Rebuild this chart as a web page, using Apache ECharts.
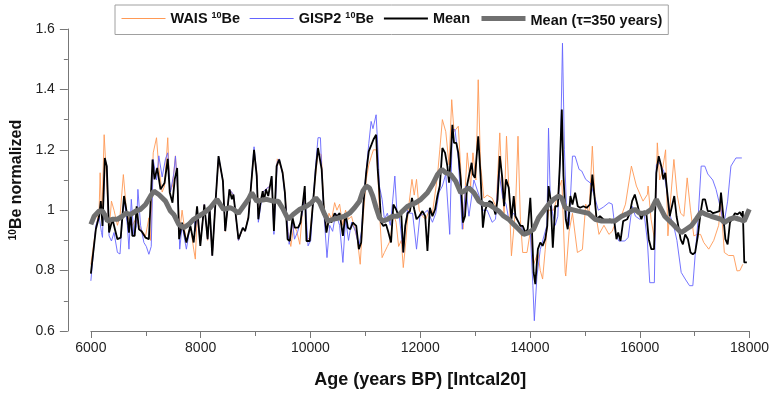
<!DOCTYPE html>
<html>
<head>
<meta charset="utf-8">
<script src="https://cdn.jsdelivr.net/npm/echarts@6/dist/echarts.min.js"></script>
<style>html,body{margin:0;padding:0;background:#fff}#c{width:772px;height:394px}</style>
</head>
<body>
<div id="c"></div>
<script>
const seriesNames = ['WAIS ¹⁰Be', 'GISP2 ¹⁰Be', 'Mean', 'Mean (τ=350 years)'];
const xTicks = [6000, 8000, 10000, 12000, 14000, 16000, 18000];
const yTicks = [0.6, 0.8, 1, 1.2, 1.4, 1.6];

const waisData = [[6000,0.82],[6091,0.94],[6150,1.0],[6169,1.124],[6199,0.97],[6242,1.25],[6290,1.09],[6332,0.93],[6375,1.03],[6422,1.0],[6484,0.95],[6531,0.98],[6592,1.118],[6653,0.99],[6713,0.96],[6756,0.95],[6816,0.97],[6876,0.95],[6937,0.93],[6997,0.915],[7057,0.975],[7088,0.9],[7136,1.19],[7196,1.24],[7238,1.14],[7299,1.06],[7342,1.08],[7401,1.24],[7438,1.06],[7487,1.08],[7541,1.18],[7583,1.06],[7619,0.93],[7662,1.0],[7740,0.894],[7813,0.95],[7873,0.871],[7903,0.838],[7935,0.98],[7994,0.89],[8067,1.02],[8127,0.9],[8163,1.0],[8212,0.85],[8266,1.01],[8326,1.17],[8406,1.1],[8448,0.93],[8525,1.07],[8598,1.05],[8689,0.9],[8768,0.94],[8810,0.93],[8870,0.98],[8973,1.19],[9022,1.13],[9051,0.98],[9131,1.06],[9190,1.07],[9263,1.08],[9294,1.1],[9335,0.94],[9396,1.17],[9431,1.17],[9493,1.13],[9535,1.06],[9590,0.93],[9643,0.88],[9698,0.95],[9752,0.93],[9807,0.887],[9856,1.0],[9897,1.06],[9933,0.9],[9988,0.91],[10048,1.03],[10097,1.12],[10138,1.19],[10199,1.184],[10242,1.02],[10296,0.93],[10338,0.99],[10387,0.97],[10441,1.025],[10483,1.0],[10532,1.02],[10586,0.95],[10640,1.0],[10694,0.97],[10749,0.98],[10804,0.94],[10858,0.9],[10907,0.821],[10949,0.95],[11016,1.1],[11063,1.15],[11112,1.18],[11148,1.2],[11197,1.2],[11226,1.13],[11257,1.0],[11306,0.843],[11348,0.86],[11402,0.88],[11456,0.9],[11511,0.99],[11560,0.96],[11607,0.88],[11656,0.9],[11692,0.81],[11740,0.9],[11782,1.0],[11850,1.102],[11891,1.05],[11933,1.102],[11982,1.0],[12042,0.98],[12102,0.97],[12163,1.0],[12223,0.99],[12314,1.113],[12357,1.2],[12404,1.3],[12466,1.26],[12526,1.15],[12574,1.366],[12616,1.26],[12694,1.278],[12738,1.14],[12779,0.937],[12857,1.19],[12919,1.08],[12961,1.19],[13015,1.1],[13057,1.432],[13100,1.15],[13160,1.04],[13220,1.05],[13311,1.04],[13384,1.01],[13450,1.256],[13492,1.08],[13528,0.99],[13572,1.245],[13613,1.08],[13662,0.849],[13735,1.0],[13782,1.245],[13825,0.97],[13867,0.86],[13946,0.86],[14006,0.93],[14066,0.82],[14144,0.86],[14188,0.8],[14230,0.772],[14278,0.87],[14338,1.0],[14429,1.0],[14507,1.05],[14543,1.08],[14580,1.1],[14641,0.794],[14652,0.782],[14713,0.93],[14774,0.99],[14864,0.86],[14955,0.87],[15015,1.02],[15076,0.99],[15136,1.212],[15197,0.99],[15257,0.92],[15348,0.95],[15438,0.92],[15498,0.93],[15558,0.96],[15643,0.97],[15740,1.02],[15848,1.146],[15939,1.08],[16060,1.03],[16139,1.052],[16152,1.08],[16206,0.97],[16272,0.9],[16320,1.223],[16363,1.1],[16411,1.13],[16471,1.2],[16513,0.915],[16568,1.05],[16622,1.168],[16682,1.05],[16744,0.99],[16804,0.98],[16864,1.107],[16925,1.0],[16985,0.915],[17045,0.92],[17107,0.92],[17166,0.893],[17257,0.871],[17348,0.9],[17438,0.95],[17480,1.02],[17541,0.86],[17619,0.85],[17710,0.85],[17771,0.799],[17824,0.8],[17878,0.821]];

const gispData = [[6000,0.766],[6091,0.95],[6150,0.98],[6194,0.926],[6212,0.91],[6254,1.17],[6290,1.146],[6332,0.915],[6375,0.898],[6422,0.926],[6484,0.86],[6531,0.855],[6575,0.98],[6604,1.04],[6665,0.95],[6694,0.871],[6737,1.036],[6785,0.915],[6834,0.95],[6857,1.069],[6906,0.95],[6966,0.893],[7010,0.88],[7057,0.854],[7100,0.88],[7136,1.168],[7196,1.1],[7238,1.18],[7299,1.11],[7360,1.17],[7401,1.19],[7450,1.06],[7510,1.12],[7541,1.179],[7583,1.06],[7619,0.871],[7662,0.95],[7740,0.871],[7813,0.95],[7885,0.97],[7903,0.93],[7935,1.0],[7994,0.89],[8067,1.019],[8127,0.904],[8163,1.008],[8212,0.85],[8266,1.013],[8326,1.179],[8406,1.096],[8448,0.931],[8525,1.069],[8598,1.052],[8689,0.9],[8768,0.942],[8810,0.93],[8870,0.975],[8973,1.21],[9022,1.12],[9051,0.96],[9131,1.06],[9190,1.07],[9263,1.08],[9294,1.11],[9335,0.92],[9396,1.16],[9431,1.17],[9493,1.12],[9535,1.05],[9613,0.887],[9674,0.96],[9710,0.904],[9770,0.93],[9856,0.99],[9897,1.06],[9957,0.882],[10006,0.9],[10048,1.03],[10097,1.15],[10138,1.24],[10182,1.24],[10205,1.14],[10242,1.0],[10302,0.843],[10351,0.95],[10405,0.93],[10460,0.99],[10532,0.95],[10592,0.827],[10640,0.97],[10694,0.9],[10749,0.96],[10822,0.93],[10882,0.88],[10931,0.93],[10967,1.03],[11016,1.13],[11063,1.22],[11106,1.294],[11139,1.27],[11197,1.316],[11230,1.2],[11257,1.08],[11306,1.036],[11348,0.97],[11402,0.99],[11456,0.95],[11498,1.03],[11538,1.113],[11574,1.0],[11619,0.98],[11692,0.86],[11728,0.95],[11770,1.0],[11801,0.99],[11861,0.99],[11933,0.871],[11994,0.98],[12072,0.99],[12132,1.0],[12223,0.96],[12284,0.99],[12344,1.06],[12404,1.08],[12466,1.12],[12538,0.92],[12586,1.267],[12634,1.267],[12694,1.17],[12767,0.937],[12828,1.08],[12888,0.98],[12979,1.1],[13070,1.05],[13130,1.0],[13220,1.0],[13311,0.96],[13372,0.97],[13432,1.13],[13504,1.04],[13564,1.02],[13613,0.97],[13704,0.99],[13795,0.96],[13885,0.93],[13946,0.926],[14006,0.93],[14053,0.75],[14079,0.634],[14108,0.634],[14126,0.78],[14188,0.87],[14278,0.93],[14308,0.95],[14338,1.272],[14369,1.05],[14411,0.99],[14460,0.95],[14507,0.98],[14556,1.2],[14592,1.553],[14628,1.2],[14670,0.98],[14713,0.95],[14774,1.179],[14822,1.179],[14895,1.135],[14942,1.13],[15015,1.102],[15100,1.09],[15185,1.04],[15245,1.0],[15335,1.01],[15438,1.025],[15498,1.02],[15558,0.926],[15619,0.898],[15728,0.898],[15789,0.91],[15861,1.013],[15921,0.98],[16000,0.97],[16079,0.99],[16139,0.898],[16182,0.76],[16266,0.76],[16302,1.15],[16345,1.16],[16436,1.13],[16496,1.06],[16556,0.98],[16617,0.95],[16677,0.9],[16755,0.794],[16828,0.772],[16907,0.75],[16967,0.75],[17009,0.85],[17058,0.96],[17119,1.146],[17185,1.146],[17239,1.12],[17330,1.1],[17390,1.069],[17480,1.0],[17529,0.948],[17601,1.03],[17661,1.146],[17752,1.173],[17860,1.173]];

const meanData = [[6000,0.79],[6091,0.937],[6150,0.98],[6181,1.03],[6212,0.948],[6254,1.173],[6290,1.146],[6332,0.926],[6393,0.97],[6484,0.904],[6544,0.909],[6604,1.047],[6665,0.98],[6694,0.926],[6725,0.99],[6756,0.915],[6798,0.915],[6834,1.013],[6876,0.937],[6924,0.93],[6997,0.909],[7057,0.904],[7088,0.905],[7124,1.168],[7160,1.102],[7209,1.14],[7269,1.069],[7342,1.09],[7401,1.17],[7438,1.058],[7487,1.025],[7528,1.102],[7572,1.14],[7608,0.904],[7662,0.959],[7740,0.893],[7813,0.948],[7873,0.893],[7935,1.013],[7994,0.882],[8067,1.019],[8127,0.904],[8163,1.008],[8212,0.849],[8266,1.013],[8326,1.179],[8406,1.096],[8448,0.931],[8525,1.069],[8569,1.036],[8598,1.052],[8689,0.904],[8768,0.942],[8810,0.931],[8870,0.975],[8888,0.98],[8973,1.2],[9022,1.113],[9051,0.97],[9094,1.03],[9131,1.063],[9154,1.03],[9190,1.069],[9232,1.047],[9263,1.08],[9294,1.113],[9335,0.931],[9384,1.146],[9431,1.168],[9493,1.124],[9535,1.058],[9584,0.904],[9625,0.898],[9674,0.975],[9716,0.942],[9776,0.942],[9819,0.959],[9856,1.013],[9897,1.08],[9928,0.898],[9988,0.898],[10048,1.025],[10097,1.135],[10138,1.206],[10169,1.212],[10205,1.135],[10242,1.013],[10291,0.926],[10338,0.97],[10381,0.959],[10441,0.99],[10483,0.98],[10532,0.99],[10592,0.915],[10640,0.99],[10682,0.942],[10726,0.937],[10773,0.959],[10835,0.948],[10882,0.871],[10925,0.893],[10967,1.025],[11016,1.124],[11063,1.195],[11112,1.217],[11148,1.234],[11197,1.25],[11226,1.135],[11257,1.058],[11288,0.959],[11329,0.948],[11378,0.953],[11414,0.931],[11469,0.893],[11511,1.019],[11560,1.003],[11607,0.98],[11656,0.985],[11692,0.86],[11728,0.948],[11770,0.99],[11813,0.997],[11850,1.041],[11891,1.003],[11933,0.97],[11982,0.98],[12042,0.997],[12091,0.98],[12132,0.865],[12176,1.008],[12223,0.98],[12272,1.003],[12314,1.047],[12357,1.08],[12404,1.206],[12453,1.19],[12495,1.146],[12526,1.091],[12556,1.179],[12586,1.283],[12616,1.223],[12658,1.223],[12694,1.19],[12738,1.102],[12779,0.959],[12816,0.98],[12857,1.085],[12888,1.08],[12937,1.157],[12961,1.118],[12997,1.107],[13057,1.245],[13100,1.113],[13142,0.942],[13178,0.997],[13220,1.019],[13263,1.03],[13311,1.025],[13372,0.986],[13409,1.036],[13450,1.179],[13492,1.113],[13528,1.013],[13564,1.102],[13613,1.074],[13662,0.97],[13704,1.047],[13735,0.98],[13782,0.964],[13825,0.948],[13867,0.948],[13916,0.926],[13958,0.937],[14006,1.041],[14035,0.937],[14066,0.794],[14097,0.755],[14144,0.871],[14188,0.893],[14230,0.882],[14278,0.904],[14315,0.948],[14338,1.08],[14375,1.036],[14416,0.876],[14460,1.013],[14507,1.013],[14543,1.146],[14580,1.333],[14610,1.113],[14652,0.97],[14688,0.937],[14737,1.047],[14774,1.019],[14822,1.058],[14870,1.013],[14913,1.008],[14973,1.013],[15033,1.008],[15094,1.019],[15136,1.118],[15172,1.052],[15214,0.97],[15275,0.98],[15335,0.97],[15395,0.964],[15457,0.97],[15486,0.959],[15535,0.965],[15576,0.904],[15607,0.926],[15649,0.898],[15698,0.964],[15734,0.96],[15770,0.97],[15819,0.99],[15861,1.03],[15910,1.052],[15957,1.019],[16000,0.986],[16029,0.97],[16079,0.997],[16120,0.99],[16164,0.904],[16211,0.871],[16260,0.871],[16302,1.124],[16345,1.179],[16392,1.146],[16429,1.102],[16465,1.124],[16501,1.058],[16545,0.98],[16587,1.013],[16629,1.047],[16670,0.98],[16708,0.942],[16744,0.904],[16786,0.887],[16828,0.92],[16877,0.904],[16925,0.86],[16967,0.854],[17009,0.86],[17058,0.915],[17107,0.99],[17148,1.036],[17190,1.036],[17239,0.997],[17287,0.997],[17335,0.99],[17384,0.993],[17451,0.997],[17480,1.058],[17517,0.99],[17560,0.904],[17601,0.887],[17643,0.959],[17692,0.975],[17734,0.99],[17782,0.986],[17824,0.994],[17860,0.98],[17878,0.997],[17904,0.827],[17951,0.827]];

const smoothData = [[6000,0.953],[6060,0.98],[6150,0.997],[6212,0.997],[6254,0.985],[6303,0.964],[6393,0.97],[6484,0.97],[6575,0.98],[6634,0.99],[6725,0.986],[6816,0.997],[6906,1.003],[6997,1.019],[7088,1.047],[7147,1.063],[7238,1.052],[7360,1.03],[7450,0.997],[7510,0.986],[7601,0.953],[7691,0.942],[7782,0.953],[7873,0.97],[7963,0.98],[8054,0.99],[8175,1.008],[8297,1.036],[8357,1.019],[8416,1.003],[8538,1.008],[8598,1.003],[8689,0.99],[8779,1.013],[8870,1.036],[8931,1.058],[9022,1.03],[9203,1.036],[9323,1.03],[9413,1.03],[9504,1.003],[9595,0.97],[9685,0.986],[9807,1.003],[9928,1.013],[10019,1.025],[10097,1.041],[10169,1.025],[10260,0.986],[10320,0.964],[10411,0.97],[10532,0.975],[10622,0.98],[10713,0.99],[10804,1.008],[10894,1.03],[10954,1.063],[11016,1.08],[11076,1.074],[11135,1.047],[11197,1.008],[11257,0.975],[11317,0.964],[11407,0.97],[11498,0.98],[11589,0.98],[11679,0.997],[11770,1.013],[11922,1.025],[12013,1.036],[12132,1.058],[12223,1.085],[12314,1.118],[12393,1.135],[12466,1.124],[12556,1.118],[12647,1.096],[12738,1.058],[12798,1.063],[12888,1.074],[12979,1.058],[13070,1.03],[13160,1.019],[13251,1.019],[13341,1.008],[13432,0.997],[13523,0.98],[13613,0.97],[13704,0.953],[13795,0.937],[13885,0.92],[13976,0.926],[14066,0.937],[14157,0.975],[14248,0.997],[14338,1.019],[14429,1.036],[14519,1.047],[14580,1.04],[14641,1.008],[14732,1.003],[14882,0.997],[15063,0.99],[15185,0.97],[15306,0.964],[15426,0.964],[15547,0.964],[15668,0.98],[15789,0.99],[15910,1.003],[16000,0.99],[16102,0.99],[16211,1.003],[16302,1.036],[16363,1.013],[16454,0.98],[16574,0.959],[16665,0.942],[16755,0.926],[16846,0.937],[16937,0.948],[17028,0.97],[17119,0.994],[17209,0.986],[17299,0.98],[17390,0.975],[17480,0.97],[17541,0.959],[17632,0.97],[17723,0.975],[17813,0.97],[17904,0.964],[17995,1.003]];

const FONT = '"Liberation Sans", Arial, sans-serif';
const chart = echarts.init(document.getElementById('c'), null, {renderer: 'canvas'});

const legendRich = {
  b: {fontFamily: FONT, fontWeight: 'bold', fontSize: 14.5, color: '#111'},
  c: {fontFamily: FONT, fontWeight: 'bold', fontSize: 14.5, color: '#111', padding: [5, 0, 0, 0]},
  s: {fontFamily: FONT, fontWeight: 'bold', fontSize: 9, color: '#111', verticalAlign: 'top', padding: [0, 0, 6, 0]}
};
function legendFmt(name) {
  if (name.indexOf('¹⁰') >= 0) {
    const parts = name.split('¹⁰');
    return '{b|' + parts[0] + '}{s|10}{b|' + parts[1] + '}';
  }
  if (name.indexOf('τ') >= 0) return '{c|' + name + '}';
  return '{b|' + name + '}';
}

const colors = ['#ff9955', '#6464ff', '#000000', '#707070'];
const datasets = [waisData, gispData, meanData, smoothData];
const widths = [0.9, 0.9, 1.8, 5];
const legendWidths = [1, 1, 2, 5];

chart.setOption({
  animation: false,
  backgroundColor: '#fff',
  grid: {left: 90, right: 20, top: 29, bottom: 62, containLabel: false},
  legend: {
    left: 115, top: 5,
    data: seriesNames.map((n, i) => ({name: n, lineStyle: {width: legendWidths[i], color: colors[i]}, itemStyle: {opacity: 0}})),
    itemWidth: 44, itemHeight: 14, itemGap: 9,
    itemStyle: {opacity: 0, borderWidth: 0},
    borderColor: '#a0a0a0', borderWidth: 1, borderRadius: 0,
    padding: [6, 6, 6, 6],
    backgroundColor: '#fff',
    formatter: legendFmt,
    textStyle: {rich: legendRich, fontFamily: FONT, fontWeight: 'bold', fontSize: 14.5, color: '#111'}
  },
  xAxis: {
    type: 'value', min: 6000, max: 18000, interval: 2000,
    name: 'Age (years BP) [Intcal20]', nameLocation: 'middle', nameGap: 40,
    nameTextStyle: {fontFamily: FONT, fontWeight: 'bold', fontSize: 18, color: '#111'},
    axisLine: {show: true, lineStyle: {color: '#777', width: 1}},
    axisTick: {show: true, length: 7, lineStyle: {color: '#777'}},
    minorTick: {show: true, splitNumber: 2, length: 5, lineStyle: {color: '#777'}},
    splitLine: {show: false},
    axisLabel: {fontFamily: FONT, fontSize: 14, color: '#222', margin: 10,
      formatter: v => xTicks.indexOf(v) >= 0 ? String(v) : ''}
  },
  yAxis: {
    type: 'value', min: 0.6, max: 1.6, interval: 0.2, offset: 23,
    name: '{s|10}{b|Be normalized}', nameLocation: 'middle', nameGap: 35, nameRotate: 90,
    nameTextStyle: {fontFamily: FONT, fontWeight: 'bold', fontSize: 16, color: '#111',
      rich: {
        b: {fontFamily: FONT, fontWeight: 'bold', fontSize: 16, color: '#111'},
        s: {fontFamily: FONT, fontWeight: 'bold', fontSize: 10, color: '#111', verticalAlign: 'top', padding: [0, 0, 7, 0]}
      }},
    axisLine: {show: true, lineStyle: {color: '#777', width: 1}},
    axisTick: {show: true, length: 8, lineStyle: {color: '#777'}},
    minorTick: {show: true, splitNumber: 2, length: 4, lineStyle: {color: '#777'}},
    splitLine: {show: false},
    axisLabel: {fontFamily: FONT, fontSize: 14, color: '#222', margin: 13,
      formatter: v => { const r = Math.round(v * 10) / 10; return yTicks.indexOf(r) >= 0 ? String(r) : ''; }}
  },
  series: seriesNames.map((n, i) => ({
    name: n, type: 'line', data: datasets[i],
    showSymbol: false, symbol: 'none', smooth: false,
    color: colors[i],
    lineStyle: {color: colors[i], width: widths[i]},
    z: 2 + i
  }))
});
</script>
</body>
</html>
